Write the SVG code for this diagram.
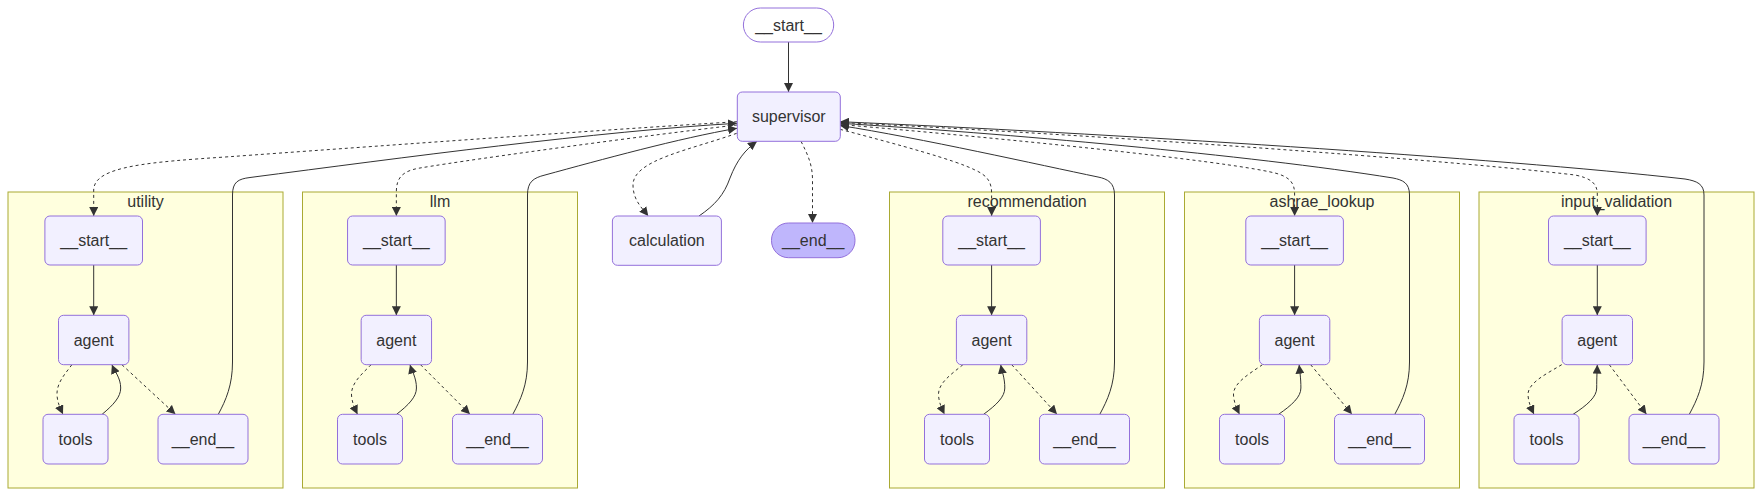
<svg xmlns="http://www.w3.org/2000/svg" width="1762" height="497" viewBox="0 0 1762 497">
<style>
.cluster rect{fill:#ffffde;stroke:#aaaa33;stroke-width:1}
.cluster text{font-family:"Liberation Sans",Arial,sans-serif;font-size:16px;fill:#333;text-anchor:middle}
.node rect{fill:#f2f0ff;stroke:#9370db;stroke-width:1}
.node text{font-family:"Liberation Sans",Arial,sans-serif;font-size:16px;fill:#333;text-anchor:middle}
.node.first rect{fill:#ffffff}
.node.last rect{fill:#bfb6fc}
.e{fill:none;stroke:#333;stroke-width:1;marker-end:url(#arr)}
.d{stroke-dasharray:3}
</style>
<defs>
<marker id="arr" viewBox="0 0 10 10" refX="10" refY="5" markerWidth="9" markerHeight="9" markerUnits="userSpaceOnUse" orient="auto">
<path d="M0,0 L10,5 L0,10 z" fill="#333"/>
</marker>
</defs>

<g id="clusters">
<g id="cluster-utility" class="cluster"><rect x="8" y="192" width="275" height="296"/><text x="145.5" y="207">utility</text></g>
<g id="cluster-llm" class="cluster"><rect x="302.5" y="192" width="275" height="296"/><text x="440" y="207">llm</text></g>
<g id="cluster-recommendation" class="cluster"><rect x="889.5" y="192" width="275" height="296"/><text x="1027" y="207">recommendation</text></g>
<g id="cluster-ashrae_lookup" class="cluster"><rect x="1184.5" y="192" width="275" height="296"/><text x="1322" y="207">ashrae_lookup</text></g>
<g id="cluster-input_validation" class="cluster"><rect x="1479" y="192" width="275" height="296"/><text x="1616.5" y="207">input_validation</text></g>
</g>

<g id="edges">
<path class="e" d="M788.5,42 L788.5,92"/>
<path class="e d" d="M736.7,133.3 C690,150 633,160 633,185 C633,200 642,208 648.3,216"/>
<path class="e" d="M699,216 C715,205 724,195 730,178 C737,160 745,150 757,141.3"/>
<path class="e d" d="M801,141.3 C808,155 812.5,165 812.5,180 L812.5,223"/>

<path class="e d" d="M737,121.7 C600,130 350,148 229.6,156.7 C150,162 93.7,166 93.7,190 L93.7,216"/>
<path class="e" d="M218.3,414.3 C226,400 232.5,385 232.5,362 L232.5,195 C232.5,182 238,179 250,177.5 C400,158 600,131 737,123.3"/>
<path class="e d" d="M737,125 C650,135 480,158 420,168 C402,171 396.35,178 396.35,192 L396.35,216"/>
<path class="e" d="M512.8,414.3 C520.5,400 527.5,385 527.5,362 L527.5,195 C527.5,182 533,178 545,175 C600,160 680,138 737,128.3"/>
<path class="e d" d="M840,129.3 C900,145 955,160 975,170 C988,176 991.6,182 991.6,194 L991.6,216"/>
<path class="e" d="M1099.8,414.3 C1107.5,400 1114.5,385 1114.5,362 L1114.5,195 C1114.5,183 1108,179 1098,177 C1040,165 920,138 840,125.5"/>
<path class="e d" d="M840,124.5 C1000,138 1220,160 1275,173 C1290,177 1294.6,183 1294.6,194 L1294.6,216"/>
<path class="e" d="M1394.8,414.3 C1402.5,400 1409.5,385 1409.5,362 L1409.5,195 C1409.5,183 1403,180 1393,178 C1250,155 1000,133 840,123.3"/>
<path class="e d" d="M840,122.5 C1100,135 1450,160 1575,175 C1590,178 1597.3,183 1597.3,194 L1597.3,216"/>
<path class="e" d="M1689.3,414.3 C1697,400 1704,385 1704,362 L1704,195 C1704,184 1697,181 1685,179 C1500,158 1100,133 840,121.7"/>

<path class="e" d="M93.7,265 L93.7,315.3"/>
<path class="e d" d="M71.9,364.7 C65,374 56.5,383 57,395 C57.5,403 60.5,409 63,414.3"/>
<path class="e" d="M102.1,414.3 C113.3,405 120.7,397 120.7,388 C120.7,378 114.5,371 111.9,364.7"/>
<path class="e d" d="M121.9,364.7 L175.5,414.3"/>

<path class="e" d="M396.35,265 L396.35,315.3"/>
<path class="e d" d="M371.1,364.7 C362,374 351,383 351.5,395 C352,403 355,409 357.5,414.3"/>
<path class="e" d="M396.6,414.3 C408.5,405 416.45,397 416.45,388 C416.45,378 411.9,371 410,364.7"/>
<path class="e d" d="M420.5,364.7 L470,414.3"/>

<path class="e" d="M991.6,265 L991.6,315.3"/>
<path class="e d" d="M962.9,364.7 C951.7,374 938,383 938.5,395 C939,403 942,409 944.5,414.3"/>
<path class="e" d="M983.6,414.3 C996.3,405 1004.8,397 1004.8,388 C1004.8,378 1001.9,371 1000.7,364.7"/>
<path class="e d" d="M1011.7,364.7 L1057,414.3"/>

<path class="e" d="M1294.6,265 L1294.6,315.3"/>
<path class="e d" d="M1262.45,364.7 C1249.2,374 1233,383 1233.5,395 C1234,403 1237,409 1239.5,414.3"/>
<path class="e" d="M1278.6,414.3 C1292,405 1300.9,397 1300.9,388 C1300.9,378 1299.7,371 1299.15,364.7"/>
<path class="e d" d="M1310.65,364.7 L1352,414.3"/>

<path class="e" d="M1597.3,265 L1597.3,315.3"/>
<path class="e d" d="M1561.7,364.7 C1546.3,374 1527.5,383 1528,395 C1528.5,403 1531.5,409 1534,414.3"/>
<path class="e" d="M1573.1,414.3 C1587.3,405 1596.7,397 1596.7,388 C1596.7,378 1597.1,371 1597.3,364.7"/>
<path class="e d" d="M1609.3,364.7 L1646.5,414.3"/>
</g>

<g id="node-start" class="node first"><rect x="743.4" y="8" width="90.3" height="34" rx="17" ry="17"/><text x="788.5" y="30.5">__start__</text></g>
<g id="node-supervisor" class="node"><rect x="737.3" y="92" width="103" height="49.3" rx="5" ry="5"/><text x="788.8" y="122.2">supervisor</text></g>
<g id="node-calculation" class="node"><rect x="612.4" y="216" width="109" height="49.3" rx="5" ry="5"/><text x="666.9" y="246.1">calculation</text></g>
<g id="node-end" class="node last"><rect x="771.5" y="223" width="83.5" height="34.7" rx="17" ry="17"/><text x="813.2" y="245.8">__end__</text></g>

<g id="node-utility-start" class="node"><rect x="44.9" y="216" width="97.6" height="49" rx="5" ry="5"/><text x="93.7" y="246">__start__</text></g>
<g id="node-utility-agent" class="node"><rect x="58.5" y="315.3" width="70.4" height="49.4" rx="5" ry="5"/><text x="93.7" y="345.5">agent</text></g>
<g id="node-utility-tools" class="node"><rect x="43" y="414.3" width="65" height="49.7" rx="5" ry="5"/><text x="75.5" y="444.6">tools</text></g>
<g id="node-utility-end" class="node"><rect x="158" y="414.3" width="90" height="49.7" rx="5" ry="5"/><text x="203" y="444.6">__end__</text></g>

<g id="node-llm-start" class="node"><rect x="347.55" y="216" width="97.6" height="49" rx="5" ry="5"/><text x="396.35" y="246">__start__</text></g>
<g id="node-llm-agent" class="node"><rect x="361.15" y="315.3" width="70.4" height="49.4" rx="5" ry="5"/><text x="396.35" y="345.5">agent</text></g>
<g id="node-llm-tools" class="node"><rect x="337.5" y="414.3" width="65" height="49.7" rx="5" ry="5"/><text x="370" y="444.6">tools</text></g>
<g id="node-llm-end" class="node"><rect x="452.5" y="414.3" width="90" height="49.7" rx="5" ry="5"/><text x="497.5" y="444.6">__end__</text></g>

<g id="node-recommendation-start" class="node"><rect x="942.8" y="216" width="97.6" height="49" rx="5" ry="5"/><text x="991.6" y="246">__start__</text></g>
<g id="node-recommendation-agent" class="node"><rect x="956.4" y="315.3" width="70.4" height="49.4" rx="5" ry="5"/><text x="991.6" y="345.5">agent</text></g>
<g id="node-recommendation-tools" class="node"><rect x="924.5" y="414.3" width="65" height="49.7" rx="5" ry="5"/><text x="957" y="444.6">tools</text></g>
<g id="node-recommendation-end" class="node"><rect x="1039.5" y="414.3" width="90" height="49.7" rx="5" ry="5"/><text x="1084.5" y="444.6">__end__</text></g>

<g id="node-ashrae_lookup-start" class="node"><rect x="1245.8" y="216" width="97.6" height="49" rx="5" ry="5"/><text x="1294.6" y="246">__start__</text></g>
<g id="node-ashrae_lookup-agent" class="node"><rect x="1259.4" y="315.3" width="70.4" height="49.4" rx="5" ry="5"/><text x="1294.6" y="345.5">agent</text></g>
<g id="node-ashrae_lookup-tools" class="node"><rect x="1219.5" y="414.3" width="65" height="49.7" rx="5" ry="5"/><text x="1252" y="444.6">tools</text></g>
<g id="node-ashrae_lookup-end" class="node"><rect x="1334.5" y="414.3" width="90" height="49.7" rx="5" ry="5"/><text x="1379.5" y="444.6">__end__</text></g>

<g id="node-input_validation-start" class="node"><rect x="1548.5" y="216" width="97.6" height="49" rx="5" ry="5"/><text x="1597.3" y="246">__start__</text></g>
<g id="node-input_validation-agent" class="node"><rect x="1562.1" y="315.3" width="70.4" height="49.4" rx="5" ry="5"/><text x="1597.3" y="345.5">agent</text></g>
<g id="node-input_validation-tools" class="node"><rect x="1514" y="414.3" width="65" height="49.7" rx="5" ry="5"/><text x="1546.5" y="444.6">tools</text></g>
<g id="node-input_validation-end" class="node"><rect x="1629" y="414.3" width="90" height="49.7" rx="5" ry="5"/><text x="1674" y="444.6">__end__</text></g>
</svg>
